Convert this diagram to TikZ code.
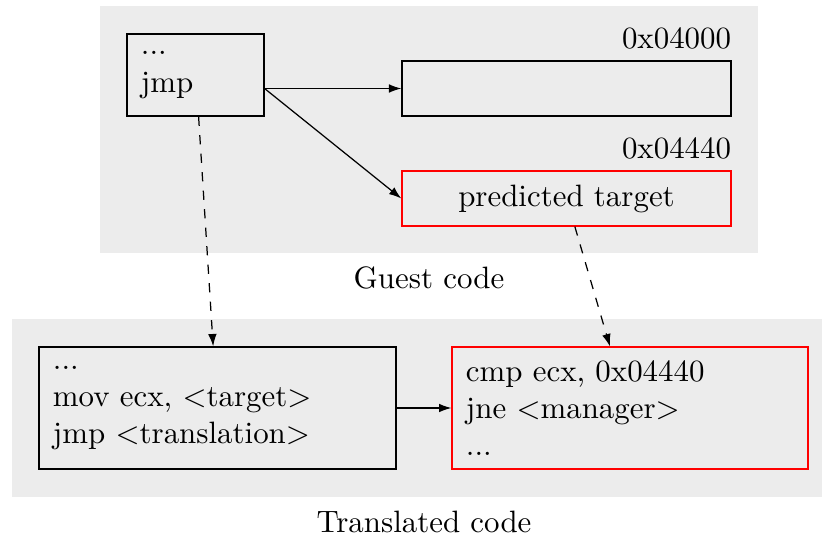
\documentclass[tikz,border=0pt]{standalone}
\usepackage{tikz}
\usetikzlibrary{arrows.meta, positioning, calc}
\definecolor{panelgray}{HTML}{ECECEC}

\begin{document}
\begin{tikzpicture}[
  x=0.3236pt, y=-0.3236pt,
  panel/.style={rectangle, fill=panelgray, inner sep=0pt},
  codebox/.style={rectangle, draw=#1, inner xsep=4.5pt, align=left},
  addrbox/.style={rectangle, draw=#1, minimum width=106.5pt, minimum height=17.8pt},
  addr/.style={anchor=south east, inner xsep=0pt},
  jump/.style={-{Latex[length=4pt, width=2.8pt]}},
  guess/.style={-{Latex[length=4pt, width=2.8pt]}, dashed}
]
  \useasboundingbox (0,0) rectangle (822,537);

  % Guest code
  \node[panel, minimum width=212.9pt, minimum height=79.9pt] (guestbg) at (429,129.5) {};
  \node[below=0.8pt of guestbg] (guestlbl) {Guest code};
  \node[codebox=black, minimum width=44.3pt, minimum height=26.5pt, text width=35.3pt] (jmp) at (195.5,75) {...\\jmp};
  \node[addrbox=black] (tgt) at (566.5,88.5) {};
  \node[addr] (tgtaddr) at (tgt.north east) {0x04000};
  \node[addrbox=red] (pred) at (566.5,198.5) {predicted target};
  \node[addr] (predaddr) at (pred.north east) {0x04440};

  % Translated code
  \node[panel, minimum width=262.1pt, minimum height=57.6pt] (transbg) at (417,408) {};
  \coordinate (transfoot) at (424,497);
  \node[below=1pt of transfoot] (translbl) {Translated code};
  \node[codebox=black, minimum width=115.5pt, minimum height=39.5pt, text width=106.5pt] (lbox) at (217.5,408) {...\\mov ecx, <target>\\jmp <translation>};
  \node[codebox=red, minimum width=115.2pt, minimum height=39.5pt, text width=106.2pt] (rbox) at (630,408) {cmp ecx, 0x04440\\jne <manager>\\...};

  % Connections
  \coordinate (jmpout) at (jmp.east |- tgt.west);
  \draw[jump] (jmpout) -- (tgt.west);
  \draw[jump] (jmpout) -- (pred.west);
  \draw[guess] ([xshift=1pt]jmp.south) -- ([xshift=-1.4pt]lbox.north);
  \draw[guess] ([xshift=2.7pt]pred.south) -- ([xshift=-6.5pt]rbox.north);
  \draw[jump] (lbox.east) -- (rbox.west);
\end{tikzpicture}
\end{document}
